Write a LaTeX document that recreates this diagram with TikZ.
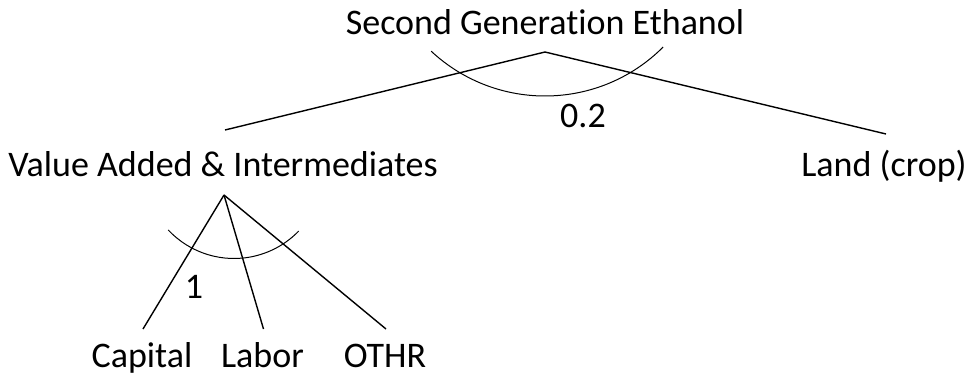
\documentclass[tikz,border=0pt]{standalone}
\usepackage{fontspec}
\setmainfont{Carlito}[Ligatures=NoCommon]
\begin{document}
\begin{tikzpicture}[x=1pt, y=1pt,
		lbl/.style={anchor=base, inner sep=0pt, font=\fontsize{36}{42}\selectfont},
		branch/.style={line width=1.4pt},
		elas/.style={line width=1pt}]
		\useasboundingbox (0,0) rectangle (969,-377);
		
		% Top nest
		\node[lbl] (sge) at (545,-35) {Second Generation Ethanol};
		\node[lbl] (va) at (223,-176) {Value Added \& Intermediates};
		\node[lbl] (land) at (884,-176) {Land (crop)};
		
		\coordinate (sgeJ) at ([yshift=-17pt]sge.base);
		\coordinate (vaTop) at ([xshift=2pt, yshift=46pt]va.base);
		\coordinate (landTop) at ([xshift=2pt, yshift=42pt]land.base);
		\draw[branch] (vaTop) -- (sgeJ) -- (landTop);
		\draw[elas] (545,71) ++(227:167) arc (227:315:167);
		\node[lbl] (sigTop) at (583,-128) {0.2};
		
		% Lower nest
		\node[lbl] (cap) at (142,-367) {Capital};
		\node[lbl] (lab) at (262.5,-367) {Labor};
		\node[lbl] (othr) at (385,-367) {OTHR};
		
		\coordinate (vaJ) at ([xshift=1pt, yshift=-19pt]va.base);
		\foreach \c in {cap, lab, othr} {
			\draw[branch] (vaJ) -- ([xshift=1pt, yshift=38pt]\c.base);
		}
		\draw[elas] (234,-168.5) ++(223:90) arc (223:316:90);
		\node[lbl] (sigVA) at (194,-298) {1};
	\end{tikzpicture}
\end{document}
